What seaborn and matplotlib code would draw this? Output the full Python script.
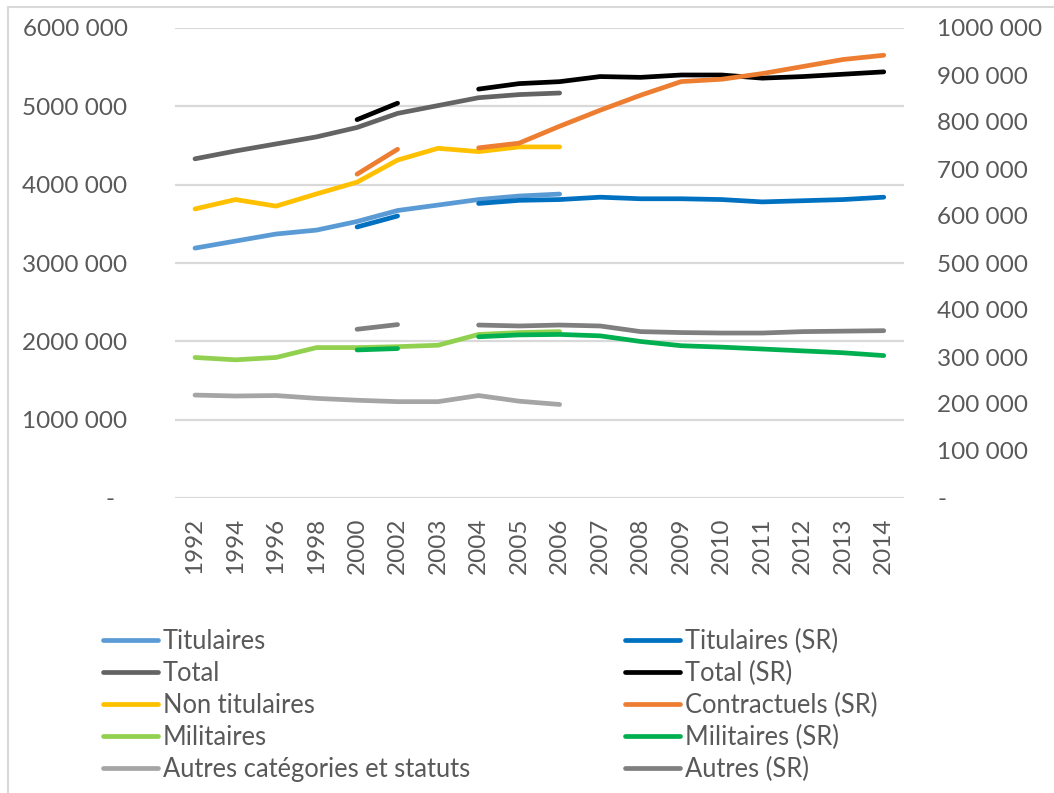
import numpy as np
import pandas as pd
import seaborn as sns
import matplotlib.pyplot as plt
from matplotlib.patches import Rectangle

# ---------------- data ----------------
years = ["1992", "1994", "1996", "1998", "2000", "2002", "2003", "2004", "2005",
         "2006", "2007", "2008", "2009", "2010", "2011", "2012", "2013", "2014"]

years_old = years[:10]            # 1992 .. 2006
years_sr = years[4:]              # 2000 .. 2014 (2003 missing)

# left axis
titulaires = [3190000, 3280000, 3370000, 3420000, 3530000, 3670000, 3740000, 3810000, 3855000, 3880000]
total = [4330000, 4430000, 4520000, 4610000, 4730000, 4910000, 5010000, 5110000, 5150000, 5170000]
titulaires_sr = [3460000, 3600000, None, 3760000, 3800000, 3810000, 3840000, 3820000, 3820000,
                 3810000, 3780000, 3795000, 3810000, 3840000]
total_sr = [4830000, 5040000, None, 5220000, 5290000, 5315000, 5380000, 5370000, 5400000,
            5400000, 5360000, 5380000, 5410000, 5440000]

# right axis
non_titulaires = [615000, 635000, 621000, 647000, 672000, 719000, 744000, 737000, 747000, 747000]
militaires = [299000, 294000, 299000, 320000, 320000, 322000, 325000, 348000, 352000, 354000]
autres = [219000, 217000, 218000, 212000, 208000, 205000, 205000, 218000, 206000, 199000]
contractuels_sr = [689000, 742000, None, 745000, 755000, 791000, 825000, 857000, 886000,
                   891000, 903000, 918000, 933000, 942000]
militaires_sr = [315000, 318000, None, 343000, 347000, 348000, 345000, 333000, 324000,
                 321000, 317000, 313000, 309000, 303000]
autres_sr = [359000, 369000, None, 368000, 366000, 368000, 366000, 354000, 352000,
             351000, 351000, 354000, 355000, 356000]

left_ticks = [0, 1000000, 2000000, 3000000, 4000000, 5000000, 6000000]
left_labels = ["-  ", "1000 000", "2000 000", "3000 000", "4000 000", "5000 000", "6000 000"]
right_ticks = [0, 100000, 200000, 300000, 400000, 500000, 600000, 700000, 800000, 900000, 1000000]
right_labels = ["-", "100 000", "200 000", "300 000", "400 000", "500 000", "600 000",
                "700 000", "800 000", "900 000", "1000 000"]

series = [
    # name, years, values, axis, color
    ("Titulaires", years_old, titulaires, "left", "#5B9BD5"),
    ("Titulaires (SR)", years_sr, titulaires_sr, "left", "#0070C0"),
    ("Total", years_old, total, "left", "#646464"),
    ("Total (SR)", years_sr, total_sr, "left", "#000000"),
    ("Non titulaires", years_old, non_titulaires, "right", "#FFC000"),
    ("Contractuels (SR)", years_sr, contractuels_sr, "right", "#ED7D31"),
    ("Militaires", years_old, militaires, "right", "#92D050"),
    ("Militaires (SR)", years_sr, militaires_sr, "right", "#00B050"),
    ("Autres catégories et statuts", years_old, autres, "right", "#A5A5A5"),
    ("Autres (SR)", years_sr, autres_sr, "right", "#7F7F7F"),
]

# ---------------- figure ----------------
sns.set_theme(style="white")
plt.rcParams['font.family'] = ['Lato', 'DejaVu Sans']
TXT = "#595959"
FS = 17.5
LFS = 18.4

W, H = 1054, 793
fig = plt.figure(figsize=(W / 100, H / 100), dpi=100)
x0, x1, y0, y1 = 174.75, 904, 28, 498
ax = fig.add_axes([x0 / W, 1 - y1 / H, (x1 - x0) / W, (y1 - y0) / H])
ax2 = ax.twinx()

handles = {}
for name, yrs, vals, side, color in series:
    target = ax if side == "left" else ax2
    rows = []
    seg = 0
    for yr, v in zip(yrs, vals):
        if v is None:
            seg += 1
            continue
        rows.append({"pos": years.index(yr), "value": v, "seg": seg})
    df = pd.DataFrame(rows)
    for s, sub in df.groupby("seg"):
        sns.lineplot(data=sub, x="pos", y="value", ax=target, color=color,
                     lw=3.4, solid_capstyle="round", estimator=None, sort=False,
                     legend=False)
        line = target.lines[-1]
        line.set_solid_joinstyle("round")
        if name not in handles:
            handles[name] = line

for a in (ax, ax2):
    a.set_xlim(-0.5, len(years) - 0.5)
    a.set_xlabel("")
    a.set_ylabel("")
    for sp in a.spines.values():
        sp.set_visible(False)

ax.set_ylim(0, 6000000)
ax2.set_ylim(0, 1000000)
ax.set_yticks(left_ticks)
ax.set_yticklabels(left_labels)
ax2.set_yticks(right_ticks)
ax2.set_yticklabels(right_labels)
ax.set_xticks(range(len(years)))
ax.set_xticklabels(years, rotation=90)

ax.tick_params(axis="y", length=0, pad=34, labelsize=FS, labelcolor=TXT)
ax2.tick_params(axis="y", length=0, pad=24, labelsize=FS, labelcolor=TXT)
ax.tick_params(axis="x", length=0, pad=14, labelsize=FS, labelcolor=TXT)

ax.yaxis.grid(True, color="#D9D9D9", lw=1.6)
ax.xaxis.grid(False)
ax2.grid(False)
ax.set_axisbelow(True)

# legend: column-wise order so rows read left→right
order = ["Titulaires", "Total", "Non titulaires", "Militaires", "Autres catégories et statuts",
         "Titulaires (SR)", "Total (SR)", "Contractuels (SR)", "Militaires (SR)", "Autres (SR)"]
fig.legend([handles[n] for n in order], order, ncol=2, loc="upper left",
           bbox_to_anchor=(103 / W, 1 - 629 / H), frameon=False, fontsize=LFS,
           labelcolor=TXT, handlelength=2.15, handletextpad=0.2, columnspacing=6.05,
           labelspacing=0.27, borderpad=0, borderaxespad=0)

# chart-area border
fig.patches.append(Rectangle((8 / W, -0.05), 1.2, 1 - 7 / H + 0.05, transform=fig.transFigure,
                             fill=False, edgecolor="#D9D9D9", lw=1.5, zorder=-1))

fig.savefig("out.png", dpi=100)
